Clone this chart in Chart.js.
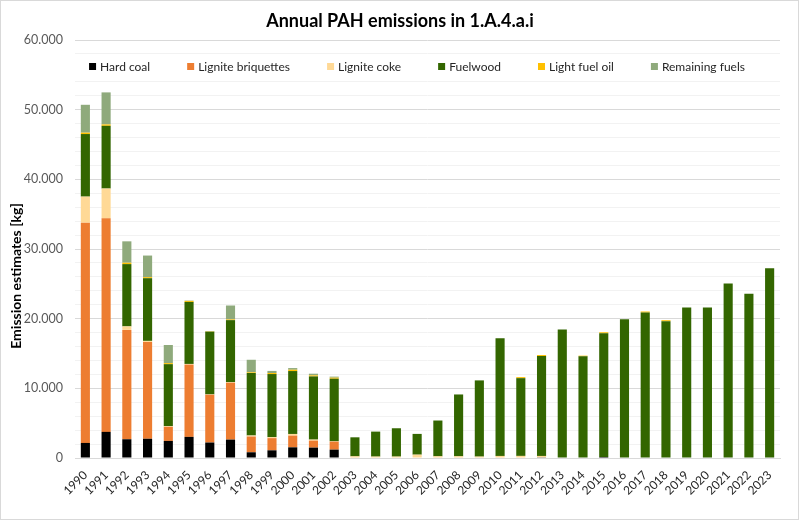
<!DOCTYPE html>
<html>
<head>
<meta charset="utf-8">
<script src="https://cdn.jsdelivr.net/npm/chart.js@4/dist/chart.umd.min.js"></script>
<style>
  html, body { margin: 0; padding: 0; background: #fff; }
  #wrap { width: 800px; height: 521px; position: relative; }
</style>
</head>
<body>
<div id="wrap"><canvas id="pahChart"></canvas></div>
<script>
// --- Data (kg) ---
const years = ['1990', '1991', '1992', '1993', '1994', '1995', '1996', '1997', '1998', '1999',
  '2000', '2001', '2002', '2003', '2004', '2005', '2006', '2007', '2008', '2009',
  '2010', '2011', '2012', '2013', '2014', '2015', '2016', '2017', '2018', '2019',
  '2020', '2021', '2022', '2023'];

const hardCoal = [2160, 3750, 2690, 2760, 2450, 3030, 2220, 2640, 820, 1100,
  1530, 1490, 1200, 0, 0, 0, 0, 0, 0, 0,
  0, 0, 100, 0, 0, 150, 0, 0, 0, 0,
  0, 0, 0, 0];

const ligniteBriquettes = [31620, 30650, 15700, 13900, 2020, 10370, 6860, 8170, 2260, 1750,
  1680, 1000, 1150, 0, 0, 0, 0, 0, 0, 0,
  0, 0, 0, 0, 0, 0, 0, 0, 0, 0,
  0, 0, 0, 0];

const ligniteCoke = [3740, 4280, 500, 150, 100, 100, 50, 80, 150, 150,
  240, 150, 50, 240, 200, 200, 480, 250, 250, 200,
  300, 300, 200, 0, 0, 0, 0, 0, 0, 0,
  0, 0, 0, 0];

const fuelwood = [8980, 9000, 8940, 9000, 8900, 8900, 9000, 8900, 8970, 9050,
  9030, 9070, 8980, 2730, 3590, 4070, 2980, 5130, 8870, 10940,
  16890, 11160, 14330, 18430, 14590, 17750, 19930, 20880, 19630, 21600,
  21600, 25060, 23570, 27220];

const lightFuelOil = [200, 200, 200, 150, 150, 150, 50, 100, 100, 150,
  190, 150, 150, 0, 0, 0, 0, 0, 0, 0,
  0, 150, 150, 0, 100, 150, 0, 150, 150, 0,
  0, 0, 0, 0];

const remainingFuels = [4000, 4600, 3070, 3100, 2600, 50, 50, 2000, 1800, 300,
  240, 240, 150, 0, 0, 0, 0, 0, 0, 0,
  0, 0, 0, 0, 0, 0, 0, 0, 0, 0,
  0, 0, 0, 0];

const yTicksMajor = 10000;

const colors = {
  hardCoal: '#000000',
  briquettes: '#ED7D31',
  coke: '#FFD996',
  fuelwood: '#336600',
  oil: '#FFC000',
  remaining: '#8FAA7C'
};

const FONT = 'Lato, "Open Sans", sans-serif';

const makeSet = (label, data, color) => ({
  label: label,
  data: data,
  backgroundColor: color,
  borderWidth: 0,
  barPercentage: 0.44,
  categoryPercentage: 1.0
});

// --- Plugin: title, in-plot legend, y axis title and outer border ---
const decorPlugin = {
  id: 'decor',
  afterDraw(chart) {
    const ctx = chart.ctx;
    const area = chart.chartArea;
    ctx.save();

    // title
    ctx.fillStyle = '#000';
    ctx.font = 'bold 18px ' + FONT;
    ctx.textAlign = 'center';
    ctx.textBaseline = 'middle';
    ctx.fillText('Annual PAH emissions in 1.A.4.a.i', 400, 21);

    // legend box inside plot area
    ctx.fillStyle = '#fff';
    ctx.fillRect(area.left, 58, area.right - area.left, 20);
    ctx.font = '12px ' + FONT;
    const items = chart.data.datasets.map(ds => ({
      label: ds.label, color: ds.backgroundColor, w: ctx.measureText(ds.label).width
    }));
    const box = 7, gapIn = 4, gapOut = 37;
    let total = 0;
    items.forEach((it, i) => { total += box + gapIn + it.w + (i < items.length - 1 ? gapOut : 0); });
    let x = 417 - total / 2;
    ctx.textAlign = 'left';
    ctx.textBaseline = 'middle';
    items.forEach(it => {
      ctx.fillStyle = it.color;
      ctx.fillRect(x, 63, box, box);
      ctx.fillStyle = '#262626';
      ctx.fillText(it.label, x + box + gapIn, 67);
      x += box + gapIn + it.w + gapOut;
    });

    // y axis title
    ctx.translate(16, 276);
    ctx.rotate(-Math.PI / 2);
    ctx.fillStyle = '#000';
    ctx.font = 'bold 14px ' + FONT;
    ctx.textAlign = 'center';
    ctx.fillText('Emission estimates [kg]', 0, 0);
    ctx.setTransform(1, 0, 0, 1, 0, 0);

    // outer border
    ctx.strokeStyle = '#d9d9d9';
    ctx.lineWidth = 1;
    ctx.strokeRect(0.5, 0.5, chart.width - 2, chart.height - 2);
    ctx.restore();
  }
};

const ctx = document.getElementById('pahChart').getContext('2d');
new Chart(ctx, {
  type: 'bar',
  data: {
    labels: years,
    datasets: [
      makeSet('Hard coal', hardCoal, colors.hardCoal),
      makeSet('Lignite briquettes', ligniteBriquettes, colors.briquettes),
      makeSet('Lignite coke', ligniteCoke, colors.coke),
      makeSet('Fuelwood', fuelwood, colors.fuelwood),
      makeSet('Light fuel oil', lightFuelOil, colors.oil),
      makeSet('Remaining fuels', remainingFuels, colors.remaining)
    ]
  },
  options: {
    responsive: true,
    maintainAspectRatio: false,
    animation: false,
    devicePixelRatio: 1,
    layout: { padding: { top: 40, right: 20, left: 0, bottom: 0 } },
    plugins: {
      legend: { display: false },
      title: { display: false },
      tooltip: { enabled: false }
    },
    scales: {
      x: {
        stacked: true,
        grid: { display: false },
        border: { color: '#d9d9d9', width: 1 },
        ticks: {
          color: '#262626',
          font: { family: FONT, size: 12 },
          maxRotation: 45,
          minRotation: 45,
          autoSkip: false,
          padding: 2
        },
        afterFit(scale) { scale.height = 63; }
      },
      y: {
        stacked: true,
        min: 0,
        max: 60000,
        border: { display: false },
        grid: {
          drawTicks: false,
          color: c => (c.tick.value % yTicksMajor === 0 ? '#d9d9d9' : '#f2f2f2'),
          lineWidth: 1
        },
        ticks: {
          stepSize: 2000,
          maxTicksLimit: 40,
          autoSkip: false,
          padding: 12,
          color: '#595959',
          font: { family: FONT, size: 12.5 },
          callback: v => (v % yTicksMajor === 0 ? v.toLocaleString('de-DE') : '')
        },
        afterFit(scale) { scale.width = 75; }
      }
    }
  },
  plugins: [decorPlugin]
});
</script>
</body>
</html>
